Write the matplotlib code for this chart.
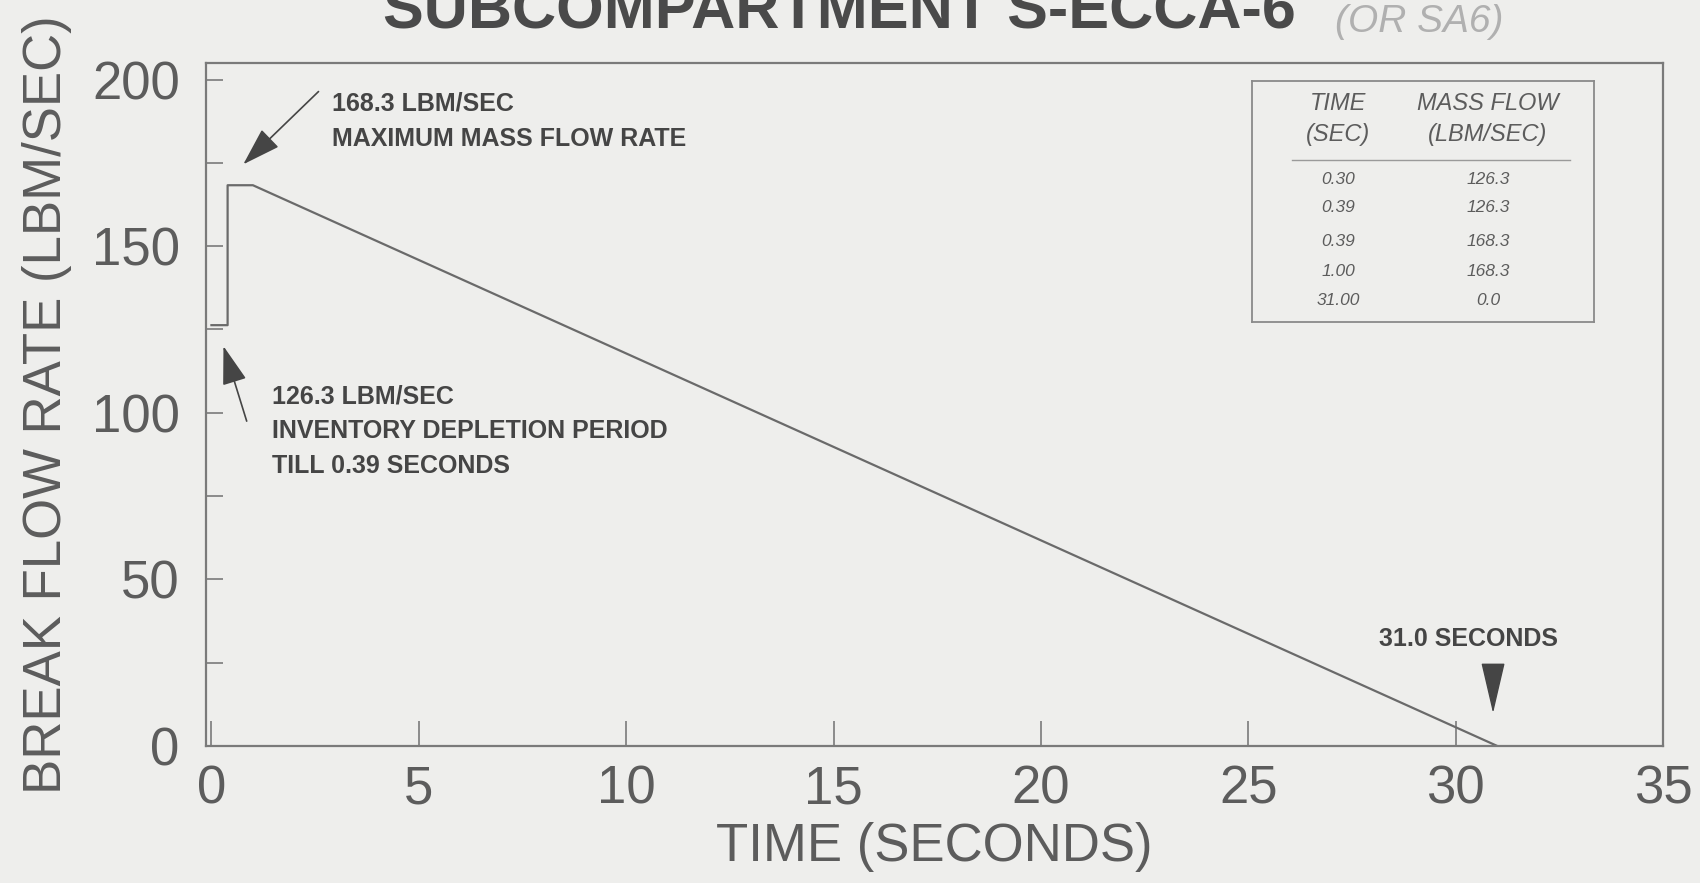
import matplotlib
matplotlib.use("Agg")
import matplotlib.pyplot as plt

# ---- data ----
time_s = [0.0, 0.39, 0.39, 1.00, 31.0]
flow_lbm = [126.3, 126.3, 168.3, 168.3, 0.0]

table_time = ["0.30", "0.39", "0.39", "1.00", "31.00"]
table_flow = ["126.3", "126.3", "168.3", "168.3", "0.0"]

x_ticks = [0, 5, 10, 15, 20, 25, 30, 35]
y_ticks = [0, 50, 100, 150, 200]
y_minor = [25, 75, 125, 175]

title = "SUBCOMPARTMENT S-ECCA-6"
note = "(OR SA6)"
xlabel = "TIME (SECONDS)"
ylabel = "BREAK FLOW RATE (LBM/SEC)"
ann_max = "168.3 LBM/SEC\nMAXIMUM MASS FLOW RATE"
ann_inv = "126.3 LBM/SEC\nINVENTORY DEPLETION PERIOD\nTILL 0.39 SECONDS"
ann_end = "31.0 SECONDS"

# ---- style ----
BG = "#eeeeec"
INK = "#5c5c5c"
DARK = "#454545"
plt.rcParams["font.family"] = ["Liberation Sans", "DejaVu Sans"]

fig = plt.figure(figsize=(17, 8.83), dpi=100, facecolor=BG)
ax = fig.add_axes([0.1212, 0.1552, 0.8571, 0.7735], facecolor=BG)

ax.plot(time_s, flow_lbm, color="#6a6a6a", lw=1.6, solid_joinstyle="round")

ax.set_xlim(-0.13, 35.0)
ax.set_ylim(0, 205)
ax.set_xticks(x_ticks)
ax.set_yticks(y_ticks)
ax.set_yticks(y_minor, minor=True)
for s in ax.spines.values():
    s.set_color("#7a7a7a")
    s.set_linewidth(1.6)
ax.tick_params(axis="both", which="both", direction="in", colors="#7a7a7a",
               labelcolor=INK, labelsize=38)
ax.tick_params(axis="y", which="both", length=12, width=1.2, pad=19)
ax.tick_params(axis="x", which="major", length=18, width=1.2, pad=13)

ax.set_xlabel(xlabel, fontsize=38, color=INK, labelpad=6)
ax.yaxis.set_label_coords(-0.092, 0.475)
ax.set_ylabel(ylabel, fontsize=38, color=INK)

# title (partially cut off at the top, as in the scan)
fig.text(0.494, 0.968, title, fontsize=44, fontweight="bold", color="#4a4a4a",
         ha="center", va="baseline")
fig.text(0.835, 0.975, note, fontsize=28, color="#b0b0b0", style="italic",
         ha="center", va="center")

# annotations
ax.annotate("", xy=(0.72, 174), xytext=(2.63, 197),
            arrowprops=dict(arrowstyle="-|>,head_length=1.1,head_width=0.35",
                            color=DARK, lw=1.2, mutation_scale=22))
ax.text(2.9, 187.5, ann_max, fontsize=18, fontweight="bold", color=DARK,
        ha="left", va="center", linespacing=1.6)

ax.annotate("", xy=(0.27, 120.8), xytext=(0.87, 96.7),
            arrowprops=dict(arrowstyle="-|>,head_length=1.1,head_width=0.35",
                            color=DARK, lw=1.2, mutation_scale=22))
ax.text(1.45, 94.5, ann_inv, fontsize=18, fontweight="bold", color=DARK,
        ha="left", va="center", linespacing=1.55)

ax.annotate("", xy=(30.9, 9), xytext=(30.9, 25),
            arrowprops=dict(arrowstyle="-|>,head_length=1.5,head_width=0.35",
                            color=DARK, lw=1.0, mutation_scale=22))
ax.text(30.3, 32.2, ann_end, fontsize=18, fontweight="bold", color=DARK,
        ha="center", va="center")

# inset table (pixel-based figure positions)
W, H = 1700.0, 883.0
def fx(px):
    return px / W
def fy(py):
    return 1 - py / H

tx0, tx1, ty0, ty1 = 1252, 1594, 81, 322
box_kw = dict(color="#8a8a8a", lw=1.3, transform=fig.transFigure)
fig.lines.append(plt.Line2D([fx(tx0), fx(tx1)], [fy(ty0), fy(ty0)], **box_kw))
fig.lines.append(plt.Line2D([fx(tx0), fx(tx1)], [fy(ty1), fy(ty1)], **box_kw))
fig.lines.append(plt.Line2D([fx(tx0), fx(tx0)], [fy(ty0), fy(ty1)], **box_kw))
fig.lines.append(plt.Line2D([fx(tx1), fx(tx1)], [fy(ty0), fy(ty1)], **box_kw))
fig.lines.append(plt.Line2D([fx(1292), fx(1570)], [fy(160), fy(160)],
                            color="#9a9a9a", lw=1.0, transform=fig.transFigure))

col_t, col_f = 1338, 1488
fig.text(fx(col_t), fy(119), "TIME\n(SEC)", fontsize=17, style="italic",
         color=INK, ha="center", va="center", linespacing=1.4)
fig.text(fx(col_f), fy(119), "MASS FLOW\n(LBM/SEC)", fontsize=17, style="italic",
         color=INK, ha="center", va="center", linespacing=1.4)
row_y = [179, 208, 241, 271, 300]
for yy, tt, ff in zip(row_y, table_time, table_flow):
    fig.text(fx(col_t), fy(yy), tt, fontsize=12.5, style="italic", color=INK,
             ha="center", va="center")
    fig.text(fx(col_f), fy(yy), ff, fontsize=12.5, style="italic", color=INK,
             ha="center", va="center")

fig.savefig("out.png", dpi=100, facecolor=BG)
